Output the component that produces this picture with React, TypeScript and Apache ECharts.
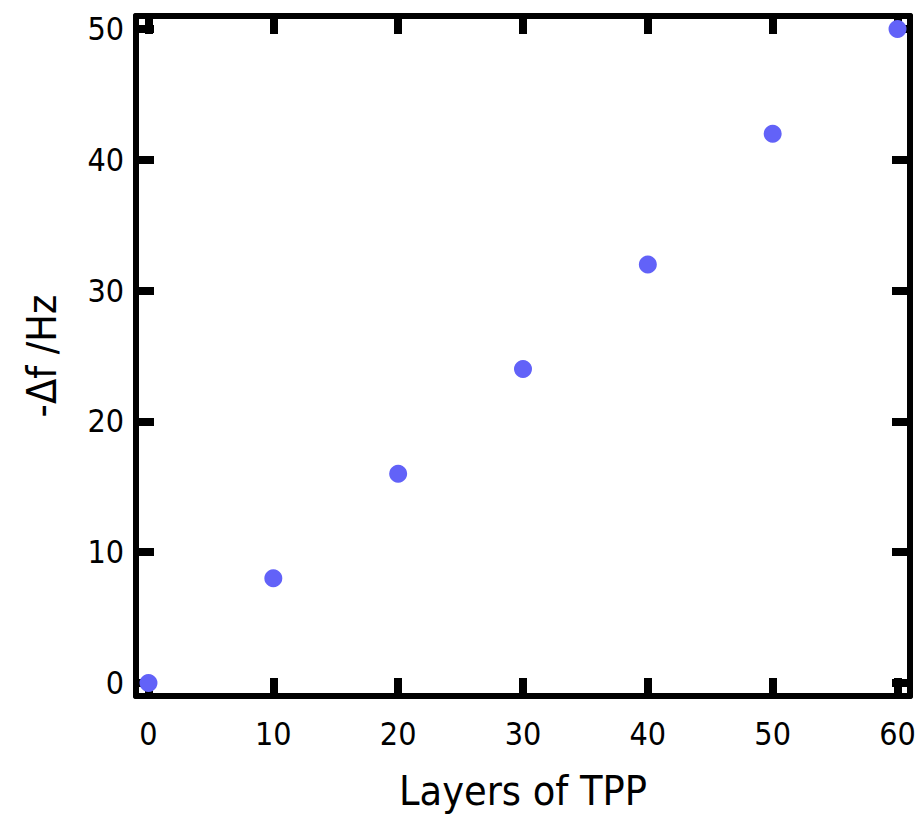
import React, { useEffect, useRef } from "react";
import * as echarts from "echarts";

const layers = [0, 10, 20, 30, 40, 50, 60];
const deltaF = [0, 8, 16, 24, 32, 42, 50];
const xTicks = [0, 10, 20, 30, 40, 50, 60];
const yTicks = [0, 10, 20, 30, 40, 50];

const FONT = "'DejaVu Sans Condensed', 'DejaVu Sans', sans-serif";

export default function App() {
  const ref = useRef<HTMLDivElement>(null);
  useEffect(() => {
    const chart = echarts.init(ref.current!, null, { renderer: "svg" });
    const axisLine = { show: true, onZero: false, lineStyle: { color: "#000", width: 6 } };
    const tick = (vals: number[]) => ({
      show: true,
      inside: true,
      length: 18,
      customValues: vals,
      lineStyle: { color: "#000", width: 8 },
    });
    const label = (vals: number[], show: boolean, margin: number) => ({
      show,
      customValues: vals,
      color: "#000",
      fontSize: 32,
      fontFamily: FONT,
      margin,
    });
    chart.setOption({
      animation: false,
      grid: { left: 136, right: 9, top: 16, bottom: 118, containLabel: false, outerBoundsMode: "none" },
      xAxis: [
        {
          type: "value",
          min: -1,
          max: 61,
          position: "bottom",
          name: "Layers of TPP",
          nameLocation: "middle",
          nameGap: 74,
          nameTextStyle: { fontSize: 41, fontFamily: FONT, color: "#000" },
          axisLine,
          axisTick: tick(xTicks),
          axisLabel: label(xTicks, true, 22),
          splitLine: { show: false },
        },
        {
          type: "value",
          min: -1,
          max: 61,
          position: "top",
          axisLine,
          axisTick: tick(xTicks),
          axisLabel: { show: false },
          splitLine: { show: false },
        },
      ],
      yAxis: [
        {
          type: "value",
          min: -1,
          max: 51,
          position: "left",
          name: "-Δf /Hz",
          nameLocation: "middle",
          nameGap: 74,
          nameTextStyle: { fontSize: 41, fontFamily: FONT, color: "#000" },
          axisLine,
          axisTick: tick(yTicks),
          axisLabel: label(yTicks, true, 12),
          splitLine: { show: false },
        },
        {
          type: "value",
          min: -1,
          max: 51,
          position: "right",
          axisLine,
          axisTick: tick(yTicks),
          axisLabel: { show: false },
          splitLine: { show: false },
        },
      ],
      series: [
        {
          type: "scatter",
          data: layers.map((x, i) => [x, deltaF[i]]),
          symbol: "circle",
          symbolSize: 18,
          itemStyle: { color: "#6262f8", opacity: 1 },
          z: 10,
        },
      ],
    });
    return () => chart.dispose();
  }, []);
  return <div ref={ref} style={{ width: 919, height: 814, position: "absolute", left: 0, top: 0 }} />;
}
